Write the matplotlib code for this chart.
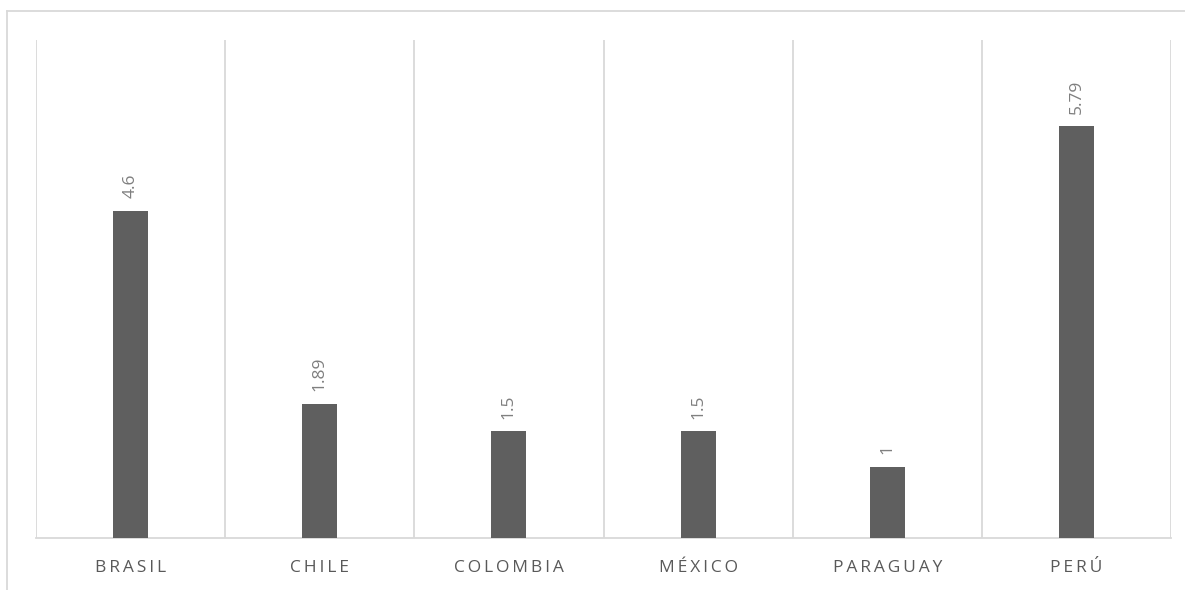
import matplotlib.pyplot as plt
from matplotlib.lines import Line2D

# data
countries = ["BRASIL", "CHILE", "COLOMBIA", "MÉXICO", "PARAGUAY", "PERÚ"]
values = [4.6, 1.89, 1.5, 1.5, 1, 5.79]
value_labels = ["4.6", "1.89", "1.5", "1.5", "1", "5.79"]

plt.rcParams['font.family'] = ['Open Sans', 'DejaVu Sans']

fig = plt.figure(figsize=(11.85, 5.9), dpi=100)
ax = fig.add_axes([36 / 1185, 1 - 538 / 590, (1171 - 36) / 1185, (538 - 40) / 590])

x = list(range(len(countries)))
bars = ax.bar(x, values, width=0.185, color='#5f5f5f', zorder=3)

ax.set_xlim(-0.5, len(countries) - 0.5)
ax.set_ylim(0, 7)

# vertical separators between categories
for b in [i - 0.5 for i in range(len(countries) + 1)]:
    ax.axvline(b, color='#d9d9d9', lw=1.3, zorder=1)

for s in ['top', 'left', 'right']:
    ax.spines[s].set_visible(False)
ax.spines['bottom'].set_color('#d9d9d9')
ax.spines['bottom'].set_linewidth(1.3)
ax.set_yticks([])

# spaced out category labels
spaced = ['\u2009'.join(c) for c in countries]
ax.set_xticks(x)
ax.set_xticklabels(spaced, fontsize=12.5, color='#595959')
ax.tick_params(axis='x', length=0, pad=16)

for rect, lab in zip(bars, value_labels):
    ax.annotate(lab, (rect.get_x() + rect.get_width() / 2, rect.get_height()),
                xytext=(0, 9), textcoords='offset points', rotation=90,
                ha='center', va='bottom', fontsize=12.5, color='#7f7f7f')

# frame of the chart area (cropped)
fig.add_artist(Line2D([7 / 1185, 7 / 1185], [0, 1 - 11 / 590], color='#d9d9d9', lw=1.3))
fig.add_artist(Line2D([7 / 1185, 1], [1 - 11 / 590, 1 - 11 / 590], color='#d9d9d9', lw=1.3))

fig.savefig('out.png', dpi=100)
